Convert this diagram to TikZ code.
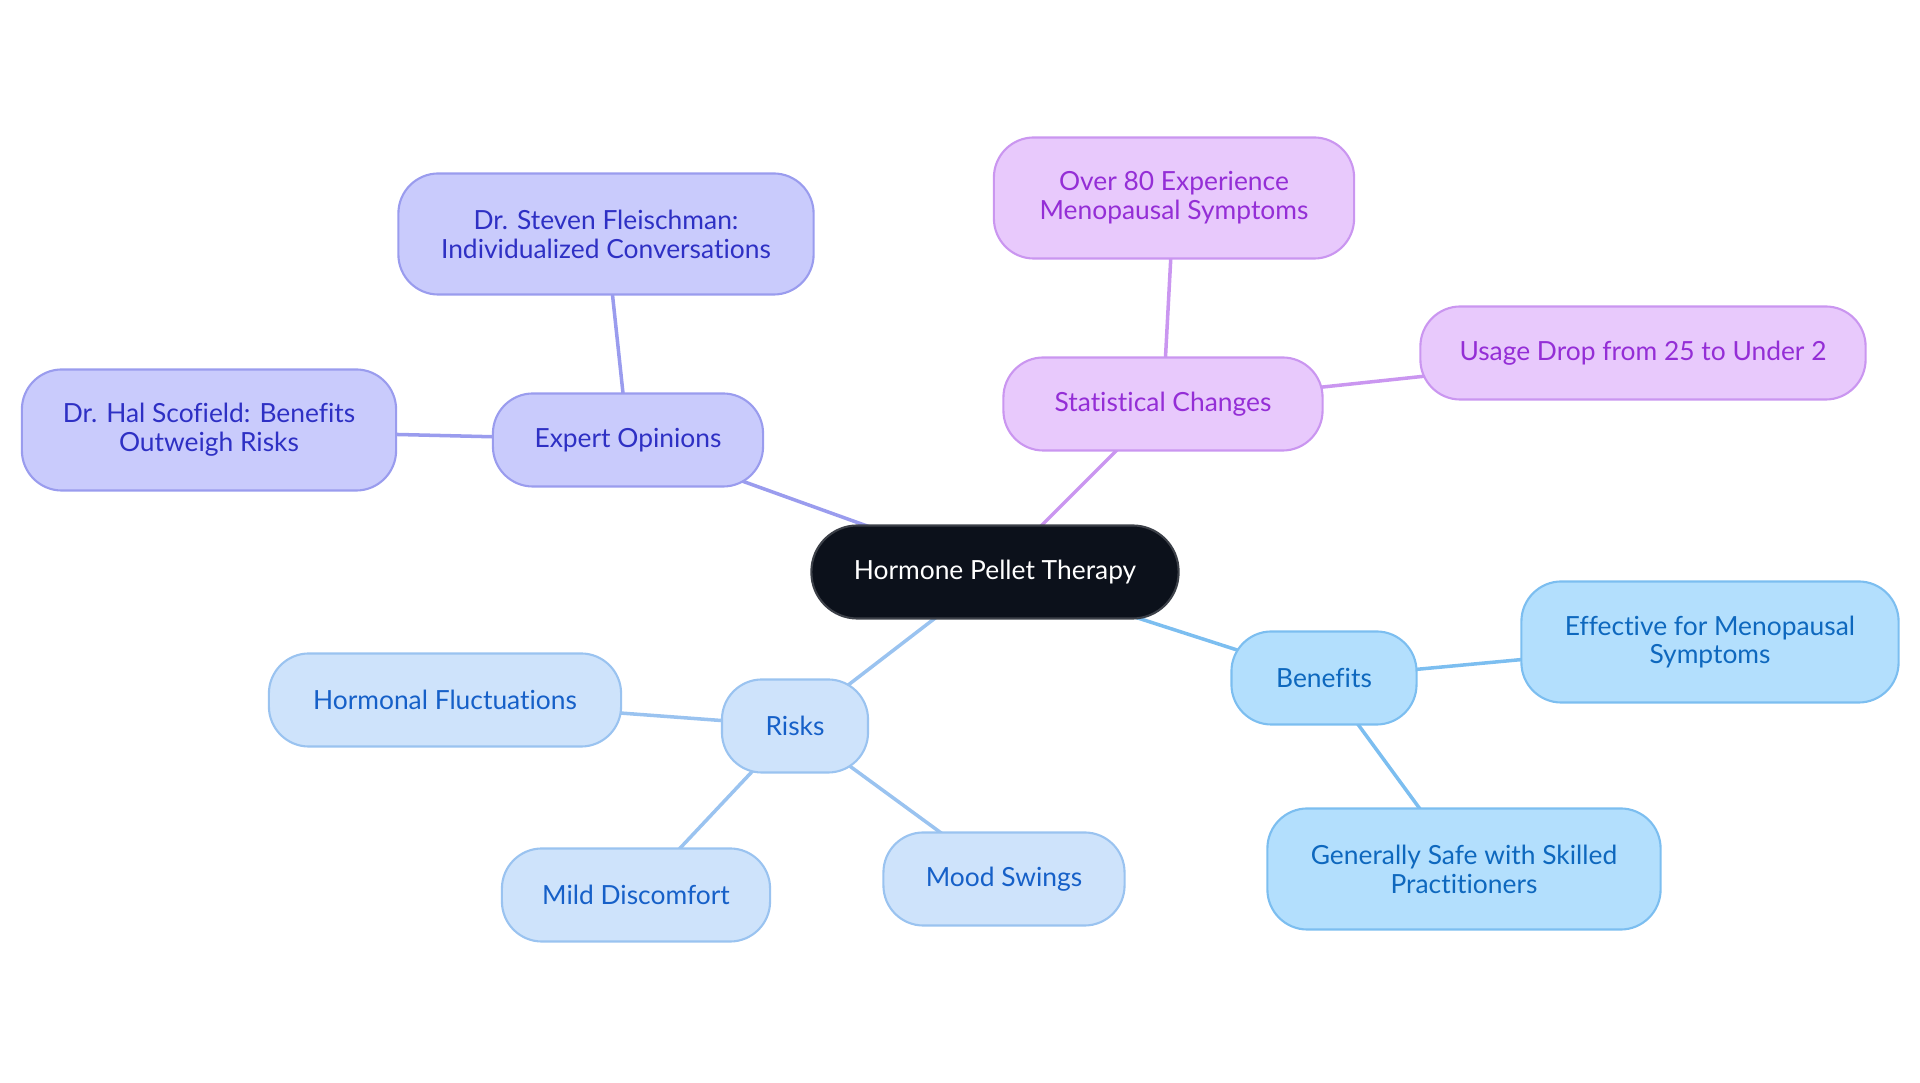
\documentclass[tikz,border=0pt]{standalone}
\usepackage{fontspec}
\setmainfont{Lato}[Ligatures={NoCommon,NoRare,NoContextual}]
\usetikzlibrary{backgrounds}
\definecolor{noir}{RGB}{12,17,27}
\definecolor{noirbord}{RGB}{60,64,72}
\definecolor{expfond}{RGB}{201,203,252}
\definecolor{exptrait}{RGB}{154,156,238}
\definecolor{exptexte}{RGB}{46,48,196}
\definecolor{statfond}{RGB}{232,201,252}
\definecolor{stattrait}{RGB}{202,150,240}
\definecolor{stattexte}{RGB}{148,46,214}
\definecolor{avfond}{RGB}{179,223,253}
\definecolor{avtrait}{RGB}{124,190,240}
\definecolor{avtexte}{RGB}{14,104,190}
\definecolor{rqfond}{RGB}{206,227,251}
\definecolor{rqtrait}{RGB}{154,195,240}
\definecolor{rqtexte}{RGB}{22,96,200}

\begin{document}
\begin{tikzpicture}[x=0.01cm, y=-0.01cm,
  bulle/.style={rounded corners=0.4cm, line width=0.6pt, align=center, inner sep=0pt,
    minimum height=0.93cm, font=\fontsize{7.5}{8.2}\selectfont},
  centre/.style={bulle, fill=noir, draw=noirbord, text=white, rounded corners=0.46cm},
  expert/.style={bulle, fill=expfond, draw=exptrait, text=exptexte},
  stat/.style={bulle, fill=statfond, draw=stattrait, text=stattexte},
  avant/.style={bulle, fill=avfond, draw=avtrait, text=avtexte},
  risque/.style={bulle, fill=rqfond, draw=rqtrait, text=rqtexte},
  lien/.style={line width=1pt}]
  \useasboundingbox (0,0) rectangle (1920,1083);
  % Noeud central
  \node[centre, minimum width=3.67cm] (hpt) at (995,572) {Hormone Pellet Therapy};
  % Avis d'experts
  \node[expert, minimum width=2.70cm] (avis) at (628,440) {Expert Opinions};
  \node[expert, minimum width=4.15cm, minimum height=1.21cm] (fleisch) at (606,234)
    {Dr. Steven Fleischman:\\Individualized Conversations};
  \node[expert, minimum width=3.74cm, minimum height=1.21cm] (scofield) at (209,430)
    {Dr. Hal Scofield: Benefits\\Outweigh Risks};
  % Statistiques
  \node[stat, minimum width=3.19cm] (stats) at (1163,404) {Statistical Changes};
  \node[stat, minimum width=3.60cm, minimum height=1.21cm] (plus80) at (1174,198)
    {Over 80 Experience\\Menopausal Symptoms};
  \node[stat, minimum width=4.45cm] (usage) at (1643,353) {Usage Drop from 25 to Under 2};
  % Avantages
  \node[avant, minimum width=1.85cm] (benef) at (1324,678) {Benefits};
  \node[avant, minimum width=3.77cm, minimum height=1.21cm] (efficace) at (1710,642)
    {Effective for Menopausal\\Symptoms};
  \node[avant, minimum width=3.93cm, minimum height=1.21cm] (sur) at (1464,869)
    {Generally Safe with Skilled\\Practitioners};
  % Risques
  \node[risque, minimum width=1.46cm] (risques) at (795,726) {Risks};
  \node[risque, minimum width=3.52cm] (fluct) at (445,700) {Hormonal Fluctuations};
  \node[risque, minimum width=2.68cm] (gene) at (636,895) {Mild Discomfort};
  \node[risque, minimum width=2.41cm] (humeur) at (1004,879) {Mood Swings};
  % Liens
  \begin{scope}[on background layer]
    \foreach \a/\b in {hpt/avis, avis/fleisch, avis/scofield}
      \draw[lien, exptrait] (\a.center) -- (\b.center);
    \foreach \a/\b in {hpt/stats, stats/plus80, stats/usage}
      \draw[lien, stattrait] (\a.center) -- (\b.center);
    \foreach \a/\b in {hpt/benef, benef/efficace, benef/sur}
      \draw[lien, avtrait] (\a.center) -- (\b.center);
    \foreach \a/\b in {hpt/risques, risques/fluct, risques/gene, risques/humeur}
      \draw[lien, rqtrait] (\a.center) -- (\b.center);
  \end{scope}
\end{tikzpicture}
\end{document}
